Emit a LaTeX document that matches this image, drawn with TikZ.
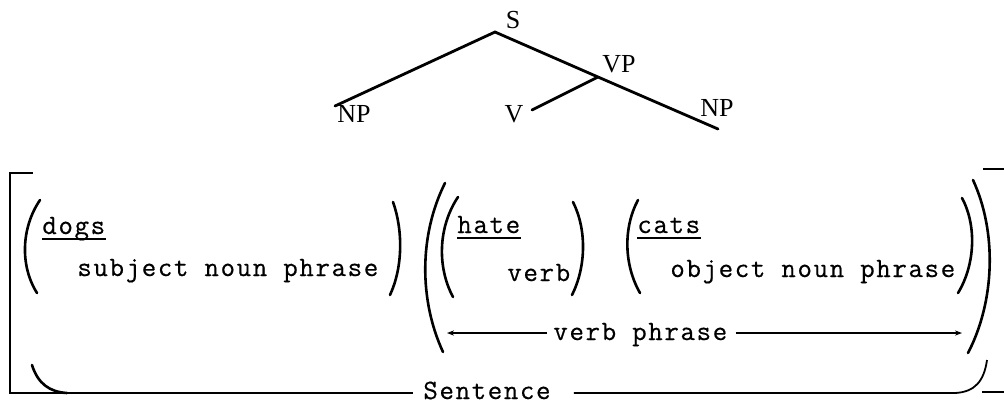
\documentclass[tikz,border=0pt]{standalone}
\usepackage{fontspec}
\newfontfamily\typewriter{lmmono12-regular.otf}[LetterSpace=6,FakeBold=0.5]
\newfontfamily\treefont{Liberation Serif}
\usetikzlibrary{arrows.meta}

\begin{document}
\begin{tikzpicture}[x=0.5pt,y=-0.5pt,
  word/.style={inner sep=0pt, anchor=base west, font=\typewriter\fontsize{14}{16}\selectfont},
  cat/.style={inner sep=0pt, anchor=base, font=\treefont\fontsize{13}{15}\selectfont},
  branch/.style={line width=1.4pt, line cap=round},
  paren/.style={line width=1.3pt, line cap=round},
  rule/.style={line width=0.9pt},
  spanarrow/.style={line width=0.9pt, -{Stealth[length=3.5pt,width=2.6pt]}},
  uline/.style={line width=0.8pt}]

\useasboundingbox (0,0) rectangle (1004,404);

% ---- phrase-structure tree ----
\coordinate (top) at (495,32);
\coordinate (vpnode) at (598,77);
\coordinate (npleft) at (335,106);
\coordinate (vleaf) at (532,110);
\coordinate (npright) at (718,129);

\node[cat] (labS)  at (513,28)  {S};
\node[cat] (labNP1) at (354,122) {NP};
\node[cat] (labV)  at (514,122) {V};
\node[cat] (labVP) at (619,72)  {VP};
\node[cat] (labNP2) at (717,116) {NP};

\draw[branch] (npleft) -- (top) -- (vpnode) -- (npright);
\draw[branch] (vleaf) -- (vpnode);

% ---- bracketed analysis ----
\node[word] (dogs) at (42,234) {dogs};
\node[word] (subj) at (77,276) {subject noun phrase};
\node[word] (hate) at (457,233) {hate};
\node[word] (verb) at (507,281) {verb};
\node[word] (cats) at (637,233) {cats};
\node[word] (obj)  at (670,277) {object noun phrase};
\node[word] (vphr) at (553,340) {verb phrase};
\node[word] (sent) at (423,399) {Sentence};

% underlined words
\draw[uline] ([yshift=-2.6pt]dogs.base west) -- ([yshift=-2.6pt]dogs.base east);
\draw[uline] ([yshift=-2.6pt]hate.base west) -- ([yshift=-2.6pt]hate.base east);
\draw[uline] ([yshift=-2.6pt]cats.base west) -- ([yshift=-2.6pt]cats.base east);

% parentheses
\draw[paren] (40,200) .. controls (21,228) and (20,266) .. (37,293);
\draw[paren] (393,202) .. controls (403,230) and (403,267) .. (390,295);
\draw[paren] (445,183) .. controls (419,235) and (419,300) .. (443,352);
\draw[paren] (458,197) .. controls (438,227) and (437,267) .. (453,297);
\draw[paren] (573,202) .. controls (587,230) and (586,267) .. (572,295);
\draw[paren] (638,200) .. controls (623,228) and (624,265) .. (640,293);
\draw[paren] (962,198) .. controls (977,226) and (975,265) .. (958,293);
\draw[paren] (973,180) .. controls (997,232) and (995,301) .. (968,353);

% verb phrase span
\draw[spanarrow] ([shift={(-6,-7)}]vphr.base west) -- (447,333);
\draw[spanarrow] ([shift={(8,-7)}]vphr.base east) -- (962,333);

% sentence span with the outer square bracket
\draw[rule, line width=1.1pt] (33,173) -- (10,173) -- (10,393) -- ([shift={(-10,-6)}]sent.base west);
\draw[paren] (32,365) .. controls (38,384) and (50,392) .. (67,393);
\draw[rule] ([shift={(23,-6)}]sent.base east) -- (955,393) .. controls (975,392) and (984,381) .. (987,360);
\draw[rule, line width=1.1pt] (983,169) -- (1004,169);
\draw[rule, line width=1.1pt] (982,392) -- (1004,392);

\end{tikzpicture}
\end{document}
